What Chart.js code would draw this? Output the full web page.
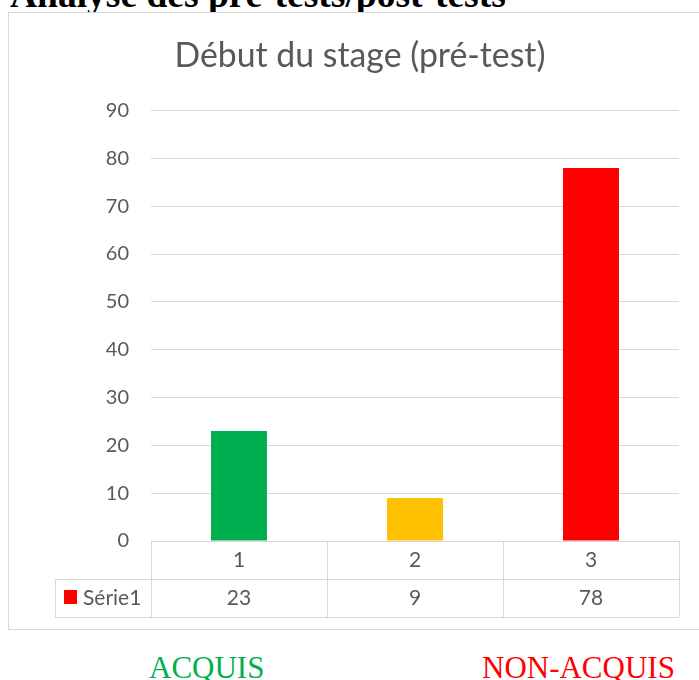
<!DOCTYPE html>
<html>
<head>
<meta charset="utf-8">
<title>Début du stage (pré-test)</title>
<script src="https://cdn.jsdelivr.net/npm/chart.js@4.4.1/dist/chart.umd.min.js"></script>
<style>
  body { margin: 0; width: 699px; height: 680px; overflow: hidden; background: #fff; position: relative; }
  #heading { position: absolute; left: 10px; top: -24px; font: bold 37.5px "Liberation Serif", "Times New Roman", serif; line-height: 1; white-space: nowrap; color: #000; }
  #box { position: absolute; left: 8px; top: 12px; width: 700px; height: 616px; border: 1px solid #d9d9d9; background: #fff; }
  #box canvas { display: block; }
  .foot { position: absolute; top: 652px; font: 31px "Liberation Serif", "Times New Roman", serif; line-height: 1; white-space: nowrap; }
</style>
</head>
<body>
<div id="heading">Analyse des pré-tests/post-tests</div>
<div id="box"><canvas id="myChart" width="690" height="616"></canvas></div>
<div class="foot" style="left:149px; color:#00b050;">ACQUIS</div>
<div class="foot" style="left:482px; color:#ff0000;">NON-ACQUIS</div>

<script>
'use strict';

// chart data
let categories = ['1', '2', '3'];
let seriesName = 'Série1';
let seriesValues = [23, 9, 78];
let barColors = ['#00b050', '#ffc000', '#ff0000'];
let yTicks = [0, 10, 20, 30, 40, 50, 60, 70, 80, 90];

let textGray = '#595959';
let lineGray = '#d9d9d9';
let fontFamily = 'Lato, "Open Sans", sans-serif';

// draws the excel-like data table under the x axis
let dataTablePlugin = {
  id: 'dataTable',
  afterDraw(chart){
    let ctx = chart.ctx;
    let x = chart.scales.x;
    let top = chart.chartArea.bottom;
    let rowH = 38;
    let colW = (x.right - x.left) / categories.length;
    let legendLeft = 46;

    ctx.save();
    ctx.strokeStyle = lineGray;
    ctx.lineWidth = 1;
    ctx.beginPath();
    // horizontal lines
    ctx.moveTo(x.left, top + 0.5);
    ctx.lineTo(x.right, top + 0.5);
    ctx.moveTo(legendLeft, top + rowH + 0.5);
    ctx.lineTo(x.right, top + rowH + 0.5);
    ctx.moveTo(legendLeft, top + 2 * rowH + 0.5);
    ctx.lineTo(x.right, top + 2 * rowH + 0.5);
    // vertical lines
    for(let i = 0; i <= categories.length; i++){
      let lx = Math.round(x.left + i * colW) + 0.5;
      ctx.moveTo(lx, top);
      ctx.lineTo(lx, top + 2 * rowH);
    }
    ctx.moveTo(legendLeft + 0.5, top + rowH);
    ctx.lineTo(legendLeft + 0.5, top + 2 * rowH);
    ctx.stroke();

    ctx.fillStyle = textGray;
    ctx.font = '21px ' + fontFamily;
    ctx.textAlign = 'center';
    ctx.textBaseline = 'middle';
    for(let i = 0; i < categories.length; i++){
      let cx = x.getPixelForValue(i);
      ctx.fillText(categories[i], cx, top + rowH / 2);
      ctx.fillText(String(seriesValues[i]), cx, top + rowH * 1.5);
    }

    // legend key
    ctx.fillStyle = '#ff0000';
    ctx.fillRect(legendLeft + 9, top + rowH + 11, 13, 14);
    ctx.fillStyle = textGray;
    ctx.textAlign = 'left';
    ctx.fillText(seriesName, legendLeft + 28, top + rowH * 1.5);
    ctx.restore();
  }
};

const ctx = document.getElementById('myChart');

new Chart(ctx, {
  type: 'bar',
  data: {
    labels: categories,
    datasets: [{
      label: seriesName,
      data: seriesValues,
      backgroundColor: barColors,
      barPercentage: 0.318,
      categoryPercentage: 1
    }]
  },
  options: {
    responsive: false,
    animation: false,
    layout: { padding: { left: 32, right: 20, top: 0, bottom: 0 } },
    plugins: {
      legend: { display: false },
      tooltip: { enabled: false },
      title: {
        display: true,
        text: 'Début du stage (pré-test)',
        color: textGray,
        font: { family: fontFamily, size: 33.8, weight: 'normal' },
        padding: { top: 23, bottom: 34 }
      }
    },
    scales: {
      x: {
        grid: { display: false },
        border: { display: false },
        ticks: { display: false },
        afterFit(scale){ scale.height = 88; }
      },
      y: {
        min: 0,
        max: 90,
        afterBuildTicks(scale){
          scale.ticks = yTicks.map(v => ({ value: v }));
        },
        grid: { color: lineGray, lineWidth: 1, drawTicks: false },
        border: { display: false },
        ticks: {
          color: textGray,
          font: { family: fontFamily, size: 20 },
          padding: 22
        },
        afterFit(scale){ scale.width = 110; }
      }
    }
  },
  plugins: [dataTablePlugin]
});
</script>
</body>
</html>
